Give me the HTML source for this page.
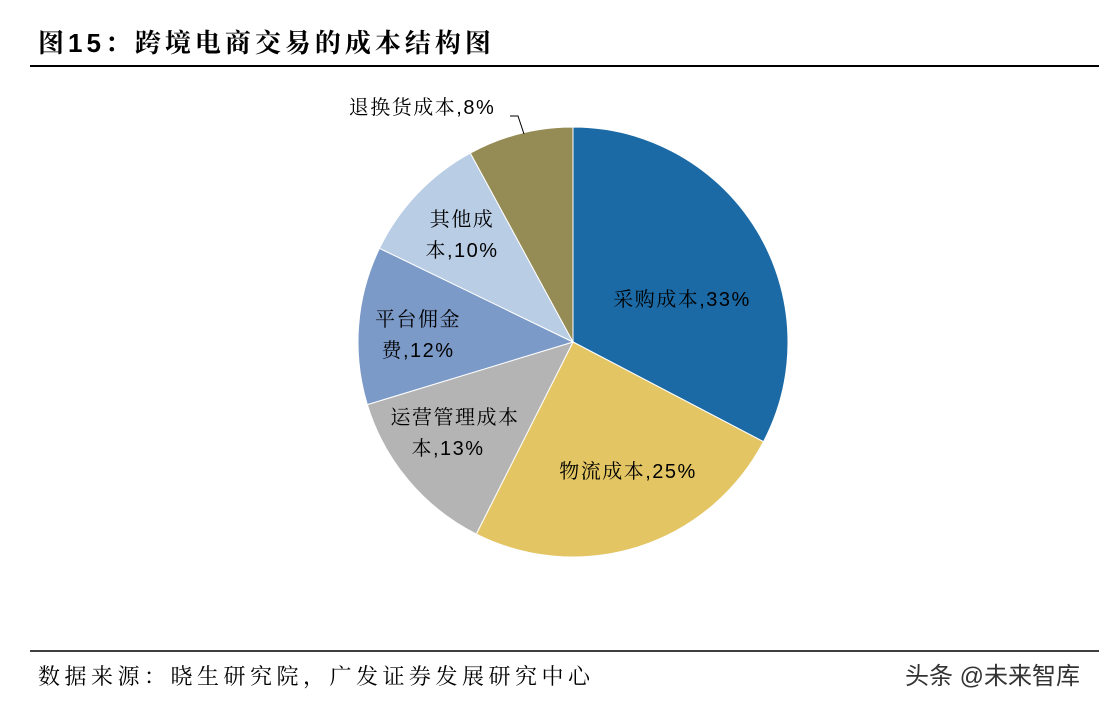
<!DOCTYPE html>
<html><head><meta charset="utf-8"><style>
body{margin:0;background:#fff;width:1099px;height:708px;overflow:hidden;font-family:"Liberation Sans","Noto Sans CJK SC",sans-serif;}
svg text{font-family:"Liberation Sans","Noto Serif CJK SC","Noto Sans CJK SC",serif;}
</style></head><body>
<svg width="1099" height="708">
<text x="38" y="52" font-size="26" font-weight="bold" fill="#000" letter-spacing="4" style="font-family:'Liberation Sans','Noto Serif CJK SC','Noto Sans CJK SC',serif">图15：跨境电商交易的成本结构图</text>
<line x1="30" y1="66" x2="1099" y2="66" stroke="#000" stroke-width="2"/>
<g id="pie"></g>
<line x1="30" y1="651" x2="1099" y2="651" stroke="#000" stroke-width="1.5"/>
<text x="38" y="684" font-size="22" fill="#000" letter-spacing="4.5">数据来源：晓生研究院，广发证券发展研究中心</text>
<text x="1080" y="684" font-size="24" fill="#333" text-anchor="end" style="font-family:'Liberation Sans','Noto Sans CJK SC',sans-serif">头条 @未来智库</text>
</svg>
<script>
const categories=["采购成本","物流成本","运营管理成本","平台佣金费","其他成本","退换货成本"];
const values=[33,25,13,12,10,8];
const colors=["#1b6aa5","#e3c564","#b4b4b4","#7b9ac8","#b9cde5","#958b55"];
const labelLines=[["采购成本,33%"],["物流成本,25%"],["运营管理成本","本,13%"],["平台佣金","费,12%"],["其他成","本,10%"],["退换货成本,8%"]];
const cx=573,cy=342,r=215;
const g=document.getElementById('pie');
const ns="http://www.w3.org/2000/svg";
const total=values.reduce((a,b)=>a+b,0);
function pt(a,rr){return [cx+rr*Math.sin(a),cy-rr*Math.cos(a)];}
let a0=0;
const lblPos=[[682,306],[628,478],[455,424],[418,326],[462,226],[422,114]];
values.forEach((v,i)=>{
 const a1=a0+v/total*2*Math.PI;
 const p0=pt(a0,r),p1=pt(a1,r);
 const path=document.createElementNS(ns,'path');
 path.setAttribute('d',`M${cx},${cy}L${p0[0]},${p0[1]}A${r},${r} 0 ${a1-a0>Math.PI?1:0} 1 ${p1[0]},${p1[1]}Z`);
 path.setAttribute('fill',colors[i]);path.setAttribute('stroke','#fff');path.setAttribute('stroke-width','1');
 
 
 g.appendChild(path);
 const lines=labelLines[i];
 lines.forEach((s,j)=>{
  const t=document.createElementNS(ns,'text');
  t.setAttribute('x',lblPos[i][0]+(j>0&&i==2?-7:0));t.setAttribute('y',lblPos[i][1]+j*31);
  t.setAttribute('font-size','20');t.setAttribute('text-anchor','middle');t.setAttribute('fill','#000');
  t.setAttribute('letter-spacing','1.5');
  t.textContent=s;
  
  
  g.appendChild(t);
 });
 a0=a1;
});
const lead=document.createElementNS(ns,'polyline');
lead.setAttribute('points','510,116 518,116 524,134');
lead.setAttribute('fill','none');lead.setAttribute('stroke','#000');lead.setAttribute('stroke-width','1');


g.appendChild(lead);
</script>
</body></html>
